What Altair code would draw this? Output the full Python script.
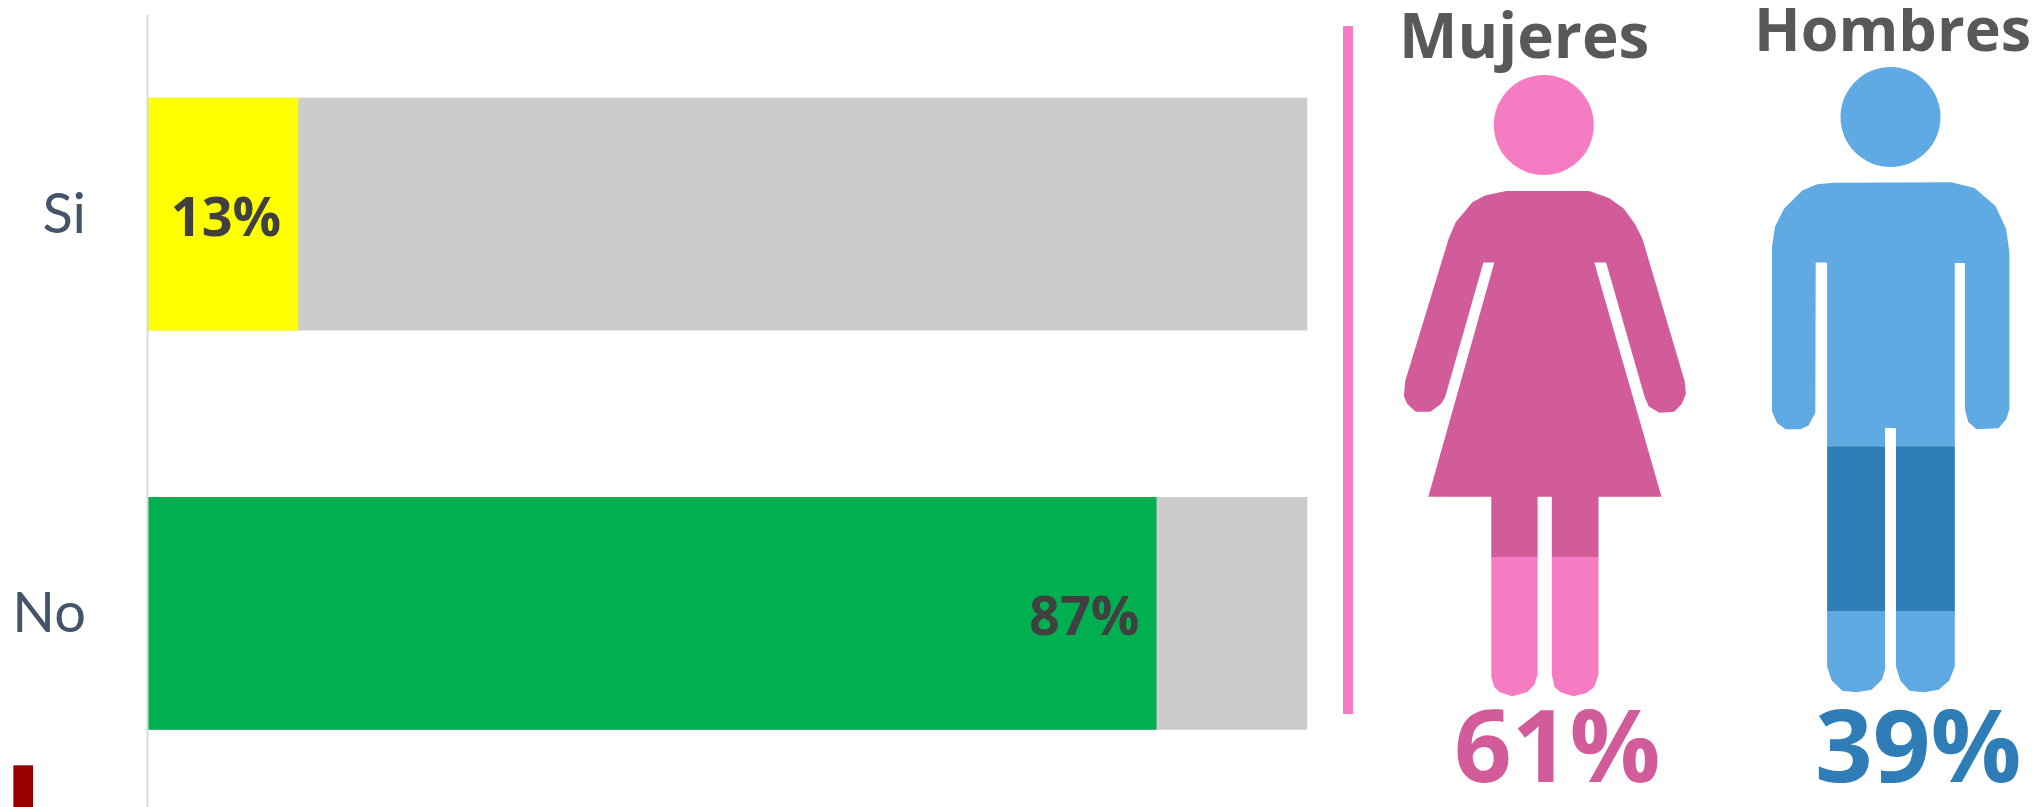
import altair as alt
import pandas as pd

answers = ["Si", "No"]
shares = [0.13, 0.87]
totals = [1.0, 1.0]
answer_colors = ["#FFFF00", "#00B050"]

genders = ["Mujeres", "Hombres"]
gender_shares = [0.61, 0.39]

W, H = 2023, 799
BOLD = "Open Sans"
SX, SY = 2.38, 1.943  # measuring units of the outline sketches


def shape(*polys, ox=0.0, oy=0.0):
    """Outline sketch -> SVG path relative to the anchor point."""
    out = []
    for poly in polys:
        pts = [f"{px / SX - ox:.1f},{py / SY - oy:.1f}" for px, py in poly]
        out.append("M" + "L".join(pts) + "Z")
    return "".join(out)


woman_body = [(300,371),(498,371),(545,385),(580,405),(607,435),(625,465),(725,740),(728,765),(718,785),
              (700,800),(665,802),(640,790),(630,772),(538,510),(510,510),(670,965),(520,965),(520,1082),
              (409,1082),(409,965),(375,965),(375,1082),(265,1082),(265,965),(115,965),(272,510),(246,510),
              (155,772),(145,785),(120,800),(85,800),(65,785),(57,770),(60,740),(163,465),(180,432),
              (220,393),(250,380)]
woman_leg_l = [(265,1082),(375,1082),(375,1310),(368,1330),(350,1345),(315,1353),(285,1345),(272,1335),(265,1315)]
woman_leg_r = [(409,1082),(520,1082),(520,1310),(510,1335),(490,1347),(460,1353),(430,1345),(415,1335),(409,1310)]

man_upper = [(1040,358),(1080,355),(1360,354),(1415,365),(1465,400),(1490,445),(1498,490),(1498,795),(1490,815),
             (1472,832),(1420,834),(1400,820),(1392,795),(1392,511),(1368,511),(1368,867),(1228,867),(1228,832),
             (1202,831),(1202,867),(1064,867),(1064,510),(1037,510),(1036,802),(1020,827),(1000,834),(965,834),
             (945,822),(933,800),(933,480),(940,440),(962,405),(1005,370)]
man_mid_l = [(1064,867),(1202,867),(1202,1187),(1064,1187)]
man_mid_r = [(1228,867),(1368,867),(1368,1187),(1228,1187)]
man_low_l = [(1064,1187),(1202,1187),(1202,1300),(1195,1320),(1170,1340),(1135,1345),(1100,1342),(1075,1322),(1064,1295)]
man_low_r = [(1228,1187),(1368,1187),(1368,1295),(1355,1322),(1330,1340),(1295,1345),(1260,1342),(1238,1322),(1228,1295)]

PINK, PINK_D, BLUE, BLUE_D = "#F57BC2", "#D25B9A", "#5FAAE2", "#2E7DB7"

bars = pd.DataFrame({"answer": answers, "share": shares, "total": totals})
one = pd.DataFrame({"k": [0]})

x_scale = alt.Scale(domain=[0, 1], range=[139.5, 1299.3])
y_scale = alt.Scale(domain=answers, range=[89.8, 721.7], paddingInner=0.417, paddingOuter=0)
x = alt.X("share:Q", scale=x_scale, axis=None)
y = alt.Y("answer:N", scale=y_scale, title=None, sort=answers,
          axis=alt.Axis(offset=-139.5, labelPadding=62, labelOffset=2, ticks=False, domain=False, grid=False,
                        labelFont="Lato", labelFontSize=56, labelColor="#44546A"))

backdrop = alt.Chart(bars).mark_bar(color="#CCCCCC").encode(x=alt.X("total:Q", scale=x_scale, axis=None), y=y)
filled = alt.Chart(bars).mark_bar().encode(
    x=x, y=y,
    color=alt.Color("answer:N", scale=alt.Scale(domain=answers, range=answer_colors), legend=None),
)
value_text = alt.Chart(bars).mark_text(font=BOLD, fontWeight="bold", fontSize=54, color="#404040",
                                       align="right", dx=-17, dy=6).encode(
    x=x, y=y, text=alt.Text("share:Q", format=".0%"))

axis_line = alt.Chart(one).mark_rule(color="#D9D9D9", strokeWidth=2).encode(
    x=alt.X("k:Q", scale=x_scale, axis=None), y=alt.value(7), y2=alt.value(H))
divider = alt.Chart(one).mark_rule(color=PINK, strokeWidth=10).encode(
    x=alt.value(1340), y=alt.value(18), y2=alt.value(706))
red_mark = alt.Chart(one).mark_rule(color="#990000", strokeWidth=19.7).encode(
    x=alt.value(15.2), y=alt.value(757.3), y2=alt.value(H))


def figure_part(path, color, ax, ay):
    return alt.Chart(one).mark_point(shape=path, size=4, filled=True, fill=color, opacity=1, strokeWidth=0).encode(
        x=alt.value(ax), y=alt.value(ay))


def head(color, ax, ay):
    return alt.Chart(one).mark_point(shape="circle", size=10000, filled=True, fill=color, opacity=1, strokeWidth=0).encode(
        x=alt.value(ax), y=alt.value(ay))


# anchors: sketches start at page x=1380, y=0; canvas is shifted by the 8px page margin
AX, AY = 1372, -8
figures = [
    head(PINK, 1535.8, 117),
    figure_part(shape(woman_body), PINK_D, AX, AY),
    figure_part(shape(woman_leg_l, woman_leg_r), PINK, AX, AY),
    head(BLUE, 1882.5, 109),
    figure_part(shape(man_upper, man_low_l, man_low_r), BLUE, AX, AY),
    figure_part(shape(man_mid_l, man_mid_r), BLUE_D, AX, AY),
]


def gender_title(i, ax, ay, size):
    d = pd.DataFrame({"t": [genders[i]]})
    return alt.Chart(d).mark_text(font=BOLD, fontWeight="bold", fontSize=size, color="#595959",
                                  align="left", baseline="alphabetic").encode(
        x=alt.value(ax), y=alt.value(ay), text="t:N")


def gender_value(i, ax, ay, color):
    d = pd.DataFrame({"v": [gender_shares[i]]})
    return alt.Chart(d).mark_text(font=BOLD, fontWeight="bold", fontSize=101, color=color,
                                  align="left", baseline="alphabetic").encode(
        x=alt.value(ax), y=alt.value(ay), text=alt.Text("v:Q", format=".0%"))


chart = alt.layer(
    backdrop, filled, axis_line, value_text, divider, red_mark, *figures,
    gender_title(0, 1391, 50, 62), gender_title(1, 1746, 43, 61),
    gender_value(0, 1446, 774, PINK_D), gender_value(1, 1807, 774, BLUE_D),
).properties(
    width=W, height=H, padding=0, autosize=alt.AutoSizeParams(type="none"),
).configure_view(stroke=None)

chart.save("out.html", embed_options={"renderer": "svg", "actions": False})
